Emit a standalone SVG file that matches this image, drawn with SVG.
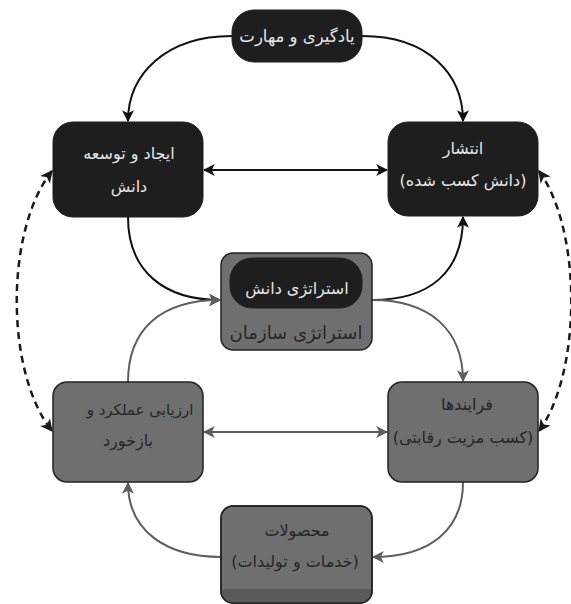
<svg xmlns="http://www.w3.org/2000/svg" width="571" height="604" viewBox="0 0 571 604">
<defs>
<style>
.dark{fill:#1e1e1e;stroke:#1e1e1e;stroke-width:1}
.gray{fill:#6f6f6f;stroke:#222;stroke-width:1.5}
.t{font-family:"DejaVu Sans","Noto Sans",sans-serif;font-size:16px;text-anchor:middle;direction:rtl}
.tl{fill:#e6e6e6}
.td{fill:#262626}
.cb{fill:none;stroke:#111;stroke-width:2}
.cg{fill:none;stroke:#5e5e5e;stroke-width:2}
.cd{fill:none;stroke:#1a1a1a;stroke-width:2.5;stroke-dasharray:7 5}
</style>
<marker id="ab" viewBox="0 0 10 10" refX="9" refY="5" markerWidth="6" markerHeight="6" orient="auto-start-reverse"><path d="M0,0 L10,5 L0,10 L2.5,5 z" fill="#111"/></marker>
<marker id="ag" viewBox="0 0 10 10" refX="9" refY="5" markerWidth="6" markerHeight="6" orient="auto-start-reverse"><path d="M0,0 L10,5 L0,10 L2.5,5 z" fill="#5e5e5e"/></marker>
<marker id="ad" viewBox="0 0 10 10" refX="9" refY="5" markerWidth="5" markerHeight="5" orient="auto-start-reverse"><path d="M0,0 L10,5 L0,10 L2.5,5 z" fill="#1a1a1a"/></marker>
<clipPath id="cpb"><rect x="221" y="506" width="151" height="97" rx="12"/></clipPath>
</defs>
<rect width="571" height="604" fill="#fff"/>

<g id="connectors">
<path class="cb" d="M232,36 C165,36 128,75 128,121" marker-end="url(#ab)"/>
<path class="cb" d="M362,36 C429,36 463,75 463,121" marker-end="url(#ab)"/>
<path class="cb" d="M204,170 L387,170" marker-start="url(#ab)" marker-end="url(#ab)"/>
<path class="cb" d="M128,217 C128,272 165,300 220,300" marker-end="url(#ab)"/>
<path class="cb" d="M372,300 C430,300 463,272 463,217" marker-end="url(#ab)"/>
<path class="cg" d="M128,382 C128,330 160,300 220,300" marker-end="url(#ag)"/>
<path class="cg" d="M372,300 C430,300 463,330 463,381" marker-end="url(#ag)"/>
<path class="cg" d="M463,482 C463,530 430,557 373,557" marker-end="url(#ag)"/>
<path class="cg" d="M221,557 C165,557 128,530 128,483" marker-end="url(#ag)"/>
<path class="cg" d="M204,432 L387,432" marker-start="url(#ag)" marker-end="url(#ag)"/>
<path class="cd" d="M52,171 C5,230 5,372 52,431" marker-start="url(#ad)" marker-end="url(#ad)"/>
<path class="cd" d="M539,171 C582,230 582,372 539,431" marker-start="url(#ad)" marker-end="url(#ad)"/>
</g>

<g id="node-learning">
<rect class="dark" x="232" y="10" width="130" height="52" rx="22"/>
<text class="t tl" x="297" y="42" style="font-size:16.5px">يادگيری و مهارت</text>
</g>

<g id="node-creation">
<rect class="dark" x="53" y="122" width="150" height="95" rx="20"/>
<text class="t tl" x="129" y="159">ايجاد و توسعه</text>
<text class="t tl" x="129" y="192">دانش</text>
</g>

<g id="node-dissemination">
<rect class="dark" x="388" y="122" width="150" height="94" rx="20"/>
<text class="t tl" x="463" y="154">انتشار</text>
<text class="t tl" x="463" y="186">(دانش کسب شده)</text>
</g>

<g id="node-strategy">
<rect class="gray" x="221" y="253" width="151" height="97" rx="12"/>
<rect class="dark" x="230" y="258" width="132" height="50" rx="22"/>
<text class="t tl" x="297" y="294" style="font-size:16px">استراتژی دانش</text>
<text class="t td" x="296" y="339" style="font-size:18px">استراتژی سازمان</text>
</g>

<g id="node-evaluation">
<rect class="gray" x="53" y="382" width="150" height="100" rx="14"/>
<text class="t td" x="140" y="415" style="font-size:15px">ارزيابی عملکرد و</text>
<text class="t td" x="128" y="446">بازخورد</text>
</g>

<g id="node-processes">
<rect class="gray" x="388" y="382" width="150" height="100" rx="14"/>
<text class="t td" x="467" y="410">فرايندها</text>
<text class="t td" x="463" y="443">(کسب مزيت رقابتی)</text>
</g>

<g id="node-products">
<rect class="gray" x="221" y="506" width="151" height="97" rx="12"/>
<rect x="221" y="589" width="151" height="14" fill="#5a5a5a" clip-path="url(#cpb)"/>
<rect x="221" y="506" width="151" height="97" rx="12" fill="none" stroke="#222" stroke-width="1.5"/>
<text class="t td" x="297" y="536">محصولات</text>
<text class="t td" x="295" y="567">(خدمات و توليدات)</text>
</g>
</svg>
